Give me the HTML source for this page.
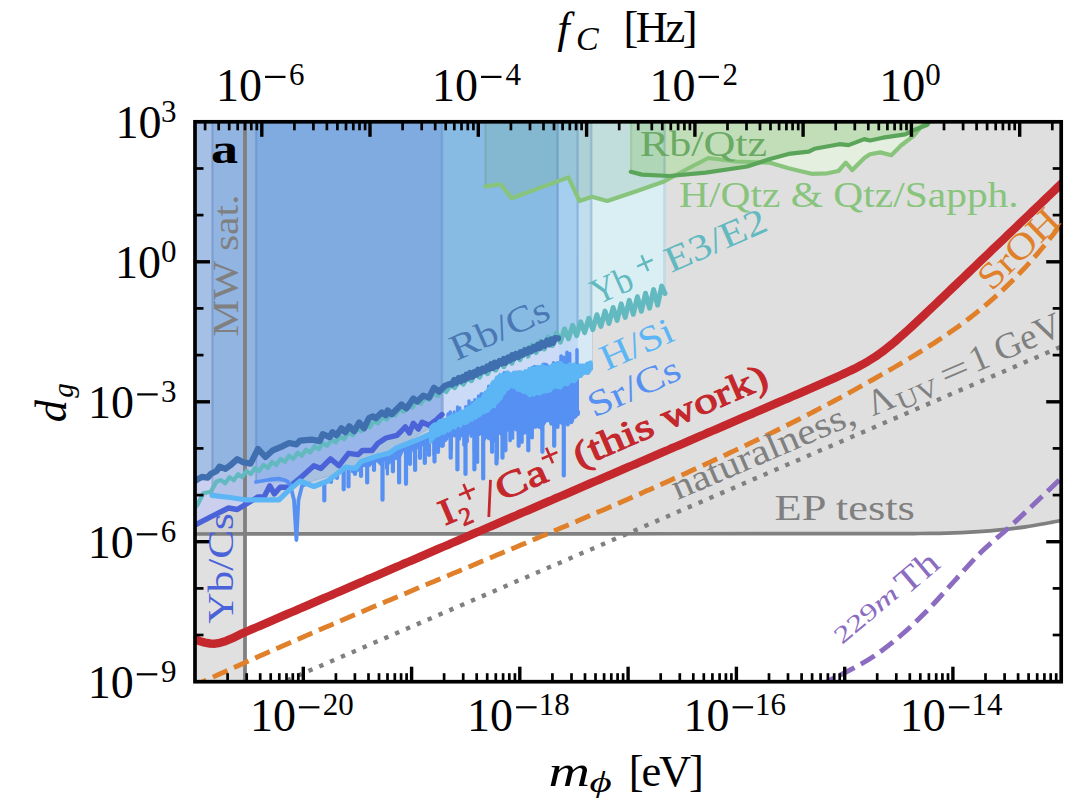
<!DOCTYPE html><html><head><meta charset="utf-8"><style>html,body{margin:0;padding:0;background:#fff;}svg{display:block;}text{font-family:"Liberation Serif",serif;}</style></head><body>
<svg width="1082" height="812" viewBox="0 0 1082 812">
<defs><clipPath id="ax"><rect x="195" y="121.8" width="866.2" height="559.9"/></clipPath></defs>
<rect width="1082" height="812" fill="#fff"/>
<g clip-path="url(#ax)">
<path d="M190,534 C225,534 331.7,533.9 400,533.9 C468.3,533.9 533.3,533.8 600,533.8 C666.7,533.8 753.3,533.7 800,533.7 C846.7,533.7 860,533.6 880,533.6 C900,533.6 908.8,533.6 920,533.5 C931.2,533.4 937.3,533.5 947.1,533.2 C956.9,532.9 969.4,532.2 978.6,531.6 C987.8,531 994.2,530.4 1002.1,529.6 C1010,528.8 1017.8,527.9 1025.7,526.8 C1033.6,525.7 1042.6,524 1049.3,522.8 C1056,521.6 1063.2,520 1066,519.5 L1066,115 L190,115 Z" fill="#dfdfdf"/>
<rect x="190" y="110" width="55" height="590" fill="rgba(204,204,204,0.6)"/>
<polygon points="664,118.8 664,181.5 689,168 708.4,158 736,161.5 770,162.7 788.5,168.2 811.6,173.8 827.3,173.3 838.4,171 845.8,162.7 852.3,170.1 864.3,158 870,154.3 880.3,152.4 891.4,155.2 901,145.5 913.6,135.8 921.9,126 926,119 926,118.8" fill="rgba(236,255,226,0.5)" stroke="rgba(236,255,226,0.5)" stroke-width="0"/>
<polygon points="190,118.8 190,512 197.4,505 203.3,493.2 210.7,491.7 216.6,484 221,482.4 231,478.9 241,475.3 251,471.7 261,468.1 271,464.6 281,461 291,457.4 301,453.8 311,449.9 321,446 331,442.1 341,438.2 351,433.8 361,429.1 371,424.5 381,419.9 391,415.3 401,410.7 411,406 421,401.4 431,396.8 441,392.2 451,387.5 461,382.9 471,378.2 481,373.6 491,368.9 501,364.3 511,359.6 521,354.9 531,350.3 541,345.6 551,341 561,336.3 571,332 581,327.9 591,323.8 601,319.7 611,315.6 621,311.5 631,307.4 641,303.3 651,299.2 661,295.1 665,293.5 665,118.8" fill="rgba(216,245,252,0.72)" stroke="rgba(216,245,252,0.72)" stroke-width="1.3"/>
<polygon points="190,118.8 190,528 195,525 196.7,524.2 210.7,516.8 228.5,508 237.3,509.5 258,496.9 264,496.9 269.8,485.8 274.3,493.9 280.2,487.3 289,487.3 300,478.2 313.9,465.8 320.8,468.5 330.5,458.8 338.8,465.8 348.5,453.3 358.2,454.7 362.4,450.5 372.1,450.5 377.6,443.6 386,438 397,435.3 405.4,426.9 409.4,433 413.3,423.2 418.3,429.1 422.2,422.2 429.1,425.2 437,419.3 442,414.5 442,118.8" fill="rgba(201,207,238,0.95)" stroke="rgba(201,207,238,0.95)" stroke-width="1.3"/>
<polygon points="256,118.8 256,482 292,481 302,484 330,476 377,456 420,438 445,425 471.8,399.2 496,380 516.9,374 542,365 562.7,353.3 578,350 578,118.8" fill="rgba(0,106,255,0.142)" stroke="rgba(0,106,255,0.142)" stroke-width="1.3"/>
<polygon points="190,118.8 190,483 195,481 196.7,479.9 201.9,476.9 207.8,477.7 210.7,474 216.6,471 219.6,466.6 225.5,468.8 231.4,464.4 237.3,459.2 243.2,462.2 250.6,463.6 258,448.9 265.4,457 272.8,450.3 281.7,446.6 289,443 296.4,444.4 300,440.6 311.8,439.6 319.7,441.1 322.7,434.2 329.6,437.1 332.5,432.2 336.5,435.2 341.4,428.3 345.3,432.2 349.3,426.3 354.2,431.2 359.1,422.4 364,428.3 369,418 373,416.3 375.9,418.3 381.8,412.4 385.8,415.3 387.7,410.4 391.7,414.3 401.5,404.5 406.5,408.4 413.3,398.6 417.3,401.5 423.2,395.6 429.1,397.6 434,387.7 439,391.7 444.9,385.8 450,383.8 452,384.5 454.3,380 456.3,382.7 458.7,377.9 460.8,381.1 462.7,377.1 464.7,379.6 466.4,374.7 468.3,377.7 470,373 472.3,376.7 474.5,372.1 476.5,374.5 478.2,369.6 480.2,372.6 482.6,368.6 485,370.9 487.2,366.5 489.3,368.8 491,364.3 492.9,367.9 494.7,362.6 497.1,366.1 499.5,361 501.8,363.5 503.8,358.9 505.7,362.7 508.1,357.6 510.1,360.3 512.1,355.2 514.1,358.2 515.9,354 518.4,356.9 520.5,352.2 522.8,354.7 525,350.3 527.2,352.8 529,348.8 531.5,351.2 533.6,346.9 535.4,349.2 537.8,344.7 539.8,348.1 542,342.8 544.5,345.8 547,340.6 549.2,344.3 551.3,339.4 553.2,342.7 555,338.2 558,338.4 558,118.8" fill="rgba(82,151,201,0.3)" stroke="rgba(82,151,201,0.3)" stroke-width="1.3"/>
<polygon points="212,118.8 212,495.4 230,497.5 245,499.8 279,499.8 289,490.2 300,481 313.9,486.5 327.7,481 345.8,467.1 355.5,468.5 361,461.6 377.6,456 388.7,453.3 397,447.7 430,428 434,425.2 438,422.4 442,420.1 446,418.4 450,416.7 454,415 458,413.3 462,411.1 466,408.6 470,406 474,403.4 478,400.9 482,396.8 486,391.2 490,385.8 494,380.8 498,375.9 502,373.5 506,373.5 510,373.5 514,373.6 518,373.6 522,372.8 526,371.2 530,369.6 534,368 538,366.4 542,365.8 546,366.2 550,366.6 554,365.4 558,364.1 562,363.8 566,364.4 570,365 574,365.6 578,366.2 582,365.7 586,364 590,362.7 592,363.6 592,118.8" fill="rgba(0,103,193,0.116)" stroke="rgba(0,103,193,0.116)" stroke-width="1.3"/>
<polygon points="485.2,118.8 485.2,186.5 500.5,184.3 511.6,198.2 568.4,177.4 579.5,201 592,196.8 607.2,201 636.3,191.2 664,181.5 665,181 665,118.8" fill="rgba(120,170,150,0.25)" stroke="rgba(120,170,150,0.25)" stroke-width="1.2"/>
<polygon points="630.8,118.8 630.8,171.8 641.9,174.6 669.6,176 705.7,172.7 747.2,166.5 770,159 788.5,153.9 808.8,151.6 814.4,148.8 839.3,144.2 848.6,145.1 864.3,139.1 870,140.5 883,137.7 905.3,134.4 913.6,130.2 927.4,124.7 931,119 931,118.8" fill="rgba(158,205,146,0.5)" stroke="rgba(158,205,146,0.5)" stroke-width="1.0"/>
<line x1="212.5" y1="121" x2="212.5" y2="495.5" stroke="rgba(40,80,140,0.13)" stroke-width="2.6"/>
<line x1="256" y1="121" x2="256" y2="482" stroke="rgba(40,80,140,0.13)" stroke-width="2.6"/>
<line x1="442" y1="121" x2="442" y2="414.5" stroke="rgba(40,80,140,0.13)" stroke-width="2.6"/>
<line x1="557.5" y1="121" x2="557.5" y2="338.4" stroke="rgba(40,80,140,0.13)" stroke-width="2.6"/>
<line x1="577.5" y1="121" x2="577.5" y2="350.1" stroke="rgba(40,80,140,0.13)" stroke-width="2.6"/>
<line x1="591" y1="121" x2="591" y2="363.1" stroke="rgba(40,80,140,0.13)" stroke-width="2.6"/>
<line x1="664.5" y1="121" x2="664.5" y2="293.7" stroke="rgba(40,80,140,0.13)" stroke-width="2.6"/>
<line x1="485.5" y1="121" x2="485.5" y2="186.5" stroke="rgba(60,110,80,0.10)" stroke-width="2.4"/>
<line x1="631" y1="121" x2="631" y2="171.9" stroke="rgba(60,110,80,0.10)" stroke-width="2.4"/>
<polygon points="444,386.7 447,385 450,383.8 453,382.5 456,382.2 459,378.4 462,378.6 465,378.7 468,377.2 471,374.6 474,373.2 477,373 480,372.2 483,369 486,368.9 489,368.5 492,366.3 495,363 498,364.2 501,362.7 504,359.2 507,359.9 510,360.2 513,356.5 516,354.1 519,355.5 522,353.9 525,350.3 528,351 531,350.8 534,347.4 537,346.2 540,347.5 543,344 546,342.7 549,344 552,340.7 555,338.2 558,338.4 559,338.4 559,363.8 558,364.1 555,365.1 552,366 549,366.5 546,366.2 543,365.9 540,365.6 537,366.8 534,368 531,369.2 528,370.4 525,371.6 522,372.8 519,373.6 516,373.6 513,373.6 510,373.5 507,373.5 504,373.5 501,373.5 498,375.9 495,379.6 492,383.3 489,387 486,391.2 483,395.4 480,399.6 477,401.5 474,403.4 471,405.4 468,407.3 465,409.2 462,411.1 459,412.8 456,414.1 453,415.4 450,416.7 447,418 444,419.3" fill="rgb(203,219,247)"/>
<polygon points="559,337.3 562,335.9 565,334.5 568,333.2 571,332 574,330.7 577,329.5 578,329.1 578,366.2 577,366 574,365.6 571,365.1 568,364.7 565,364.2 562,363.8 559,363.8" fill="rgb(195,218,246)"/>
<polygon points="578,329.1 581,327.9 584,326.6 587,325.4 590,324.2 592,323.4 592,363.6 590,362.7 587,363.6 584,364.8 581,366.1 578,366.2" fill="rgb(214,233,245)"/>
<line x1="245" y1="115" x2="245" y2="690" stroke="#808080" stroke-width="3.8"/>
<path d="M190,534 C225,534 331.7,533.9 400,533.9 C468.3,533.9 533.3,533.8 600,533.8 C666.7,533.8 753.3,533.7 800,533.7 C846.7,533.7 860,533.6 880,533.6 C900,533.6 908.8,533.6 920,533.5 C931.2,533.4 937.3,533.5 947.1,533.2 C956.9,532.9 969.4,532.2 978.6,531.6 C987.8,531 994.2,530.4 1002.1,529.6 C1010,528.8 1017.8,527.9 1025.7,526.8 C1033.6,525.7 1042.6,524 1049.3,522.8 C1056,521.6 1063.2,520 1066,519.5" fill="none" stroke="#808080" stroke-width="3.7" stroke-linejoin="round" stroke-linecap="round" />
<path d="M485.2,186.5 L500.5,184.3 L511.6,198.2 L568.4,177.4 L579.5,201 L592,196.8 L607.2,201 L636.3,191.2 L664,181.5 L689,168 L708.4,158 L736,161.5 L770,162.7 L788.5,168.2 L811.6,173.8 L827.3,173.3 L838.4,171 L845.8,162.7 L852.3,170.1 L864.3,158 L870,154.3 L880.3,152.4 L891.4,155.2 L901,145.5 L913.6,135.8 L921.9,126 L926,119" fill="none" stroke="#88c47c" stroke-width="4.2" stroke-linejoin="round" stroke-linecap="round" />
<path d="M630.8,171.8 L641.9,174.6 L669.6,176 L705.7,172.7 L747.2,166.5 L770,159 L788.5,153.9 L808.8,151.6 L814.4,148.8 L839.3,144.2 L848.6,145.1 L864.3,139.1 L870,140.5 L883,137.7 L905.3,134.4 L913.6,130.2 L927.4,124.7 L931,119" fill="none" stroke="#5aa55a" stroke-width="4.2" stroke-linejoin="round" stroke-linecap="round" />
<path d="M190,512 L197.4,505 L203.3,493.2 L210.7,491.7 L216.6,481.4 L221,480.1 L225.2,483.2 L229.5,477.1 L233.8,480.2 L238,474.1 L242.2,477.1 L246.5,471 L250.8,474.1 L255,468 L259.2,471.1 L263.5,464.9 L267.8,468 L272,461.9 L276.2,465 L280.5,458.9 L284.8,461.9 L289,455.8 L293.2,458.9 L297.5,452.8 L301.8,455.8 L306,449.6 L310.2,452.5 L314.5,446.2 L318.8,449.2 L323,442.9 L327.2,445.8 L331.5,439.6 L335.8,442.5 L340,436.3 L344.2,439.2 L348.5,432.6 L352.8,435.3 L357,428.7 L361.2,431.3 L365.5,424.8 L369.8,427.4 L374,420.8 L378.2,423.5 L382.5,416.9 L386.8,419.5 L391,413 L395.2,415.6 L399.5,409 L403.8,411.7 L408,405.1 L412.2,407.8 L416.5,401.2 L420.8,403.8 L425,397.3 L429.2,399.9 L433.5,393.3 L437.8,396 L442,389.4 L446.2,392 L450.5,385.5 L454.8,388.1 L459,381.5 L463.2,384.2 L467.3,377.4" fill="none" stroke="#62b9bf" stroke-width="4.2" stroke-linejoin="round" stroke-linecap="round" />
<path d="M463.2,384.2 L467.3,377.4 L471.4,380.7 L475.4,373.4 L479.5,377.2 L483.5,369.3 L487.6,373.7 L491.6,365.3 L495.7,370.2 L499.7,361.3 L503.8,366.7 L507.8,357.3 L511.9,363.2 L515.9,353.2 L520,359.7 L524,349.2 L528,356.2 L532.1,345.2 L536.1,352.6 L540.2,341.1 L544.2,349.1 L548.3,337.1 L552.3,345.6 L556.4,333.1 L560.4,342.1 L564.5,329 L568.5,338.8 L572.6,325.4 L576.6,335.7 L580.7,321.8 L584.7,332.6 L588.8,318.2 L592.8,329.6 L596.9,314.7 L600.9,326.5 L605,311.1 L609,323.5 L613.1,307.5 L617.1,320.4 L621.2,303.9 L625.2,317.4 L629.3,300.4 L633.3,314.3 L637.4,296.8 L641.4,311.3 L645.5,293.2 L649.5,308.2 L653.6,289.6 L657.6,305.2 L661.7,286.1 L665,293.5" fill="none" stroke="#62b9bf" stroke-width="5.0" stroke-linejoin="round" stroke-linecap="round" />
<path d="M190,528 L195,525 L196.7,524.2 L210.7,516.8 L228.5,508 L237.3,509.5 L258,496.9 L264,496.9 L269.8,485.8 L274.3,493.9 L280.2,487.3 L289,487.3 L300,478.2 L313.9,465.8 L320.8,468.5 L330.5,458.8 L338.8,465.8 L348.5,453.3 L358.2,454.7 L362.4,450.5 L372.1,450.5 L377.6,443.6 L386,438 L397,435.3 L405.4,426.9 L409.4,433 L413.3,423.2 L418.3,429.1 L422.2,422.2 L429.1,425.2 L437,419.3 L442,414.5" fill="none" stroke="#4b63d8" stroke-width="5.4" stroke-linejoin="round" stroke-linecap="round" />
<path d="M256,482 L270,479.5 L279,478.7 L286,480.6 L290,484" fill="none" stroke="#5590f2" stroke-width="3.8" stroke-linejoin="round" stroke-linecap="round" />
<path d="M290,484 L294,500 L296.4,540 L298.5,500 L302,486 L306,484" fill="none" stroke="#5590f2" stroke-width="3.8" stroke-linejoin="round" stroke-linecap="round" />
<path d="M324.3,482.4 L324.3,500.4" fill="none" stroke="#5590f2" stroke-width="4.2" stroke-linejoin="round" stroke-linecap="round" />
<path d="M343.7,468.7 L343.7,489.3" fill="none" stroke="#5590f2" stroke-width="4.2" stroke-linejoin="round" stroke-linecap="round" />
<path d="M348.5,467.5 L348.5,486.5" fill="none" stroke="#5590f2" stroke-width="4.2" stroke-linejoin="round" stroke-linecap="round" />
<path d="M367.2,459.5 L367.2,482.4" fill="none" stroke="#5590f2" stroke-width="4.2" stroke-linejoin="round" stroke-linecap="round" />
<path d="M382.5,454.8 L382.5,499.7" fill="none" stroke="#5590f2" stroke-width="4.2" stroke-linejoin="round" stroke-linecap="round" />
<path d="M392.9,450.5 L392.9,471.3" fill="none" stroke="#5590f2" stroke-width="4.2" stroke-linejoin="round" stroke-linecap="round" />
<path d="M399.1,446.9 L399.1,482.4" fill="none" stroke="#5590f2" stroke-width="4.2" stroke-linejoin="round" stroke-linecap="round" />
<path d="M406,444.3 L406,483.8" fill="none" stroke="#5590f2" stroke-width="4.2" stroke-linejoin="round" stroke-linecap="round" />
<path d="M415.1,440.8 L415.1,469.9" fill="none" stroke="#5590f2" stroke-width="4.2" stroke-linejoin="round" stroke-linecap="round" />
<path d="M424.8,436.5 L424.8,463" fill="none" stroke="#5590f2" stroke-width="4.2" stroke-linejoin="round" stroke-linecap="round" />
<path d="M434.5,432.2 L434.5,461.6" fill="none" stroke="#5590f2" stroke-width="4.2" stroke-linejoin="round" stroke-linecap="round" />
<path d="M442.8,432 L442.8,445.6" fill="none" stroke="#5590f2" stroke-width="4.2" stroke-linejoin="round" stroke-linecap="round" />
<path d="M331,478.5 L331,482" fill="none" stroke="#5590f2" stroke-width="4.2" stroke-linejoin="round" stroke-linecap="round" />
<path d="M337,473.9 L337,478" fill="none" stroke="#5590f2" stroke-width="4.2" stroke-linejoin="round" stroke-linecap="round" />
<path d="M355,468.4 L355,474" fill="none" stroke="#5590f2" stroke-width="4.2" stroke-linejoin="round" stroke-linecap="round" />
<path d="M361,461.6 L361,476" fill="none" stroke="#5590f2" stroke-width="4.2" stroke-linejoin="round" stroke-linecap="round" />
<path d="M374,457.2 L374,470" fill="none" stroke="#5590f2" stroke-width="4.2" stroke-linejoin="round" stroke-linecap="round" />
<path d="M387,453.7 L387,468" fill="none" stroke="#5590f2" stroke-width="4.2" stroke-linejoin="round" stroke-linecap="round" />
<path d="M410,442.7 L410,464" fill="none" stroke="#5590f2" stroke-width="4.2" stroke-linejoin="round" stroke-linecap="round" />
<path d="M420,438.6 L420,458" fill="none" stroke="#5590f2" stroke-width="4.2" stroke-linejoin="round" stroke-linecap="round" />
<path d="M429,434.7 L429,455" fill="none" stroke="#5590f2" stroke-width="4.2" stroke-linejoin="round" stroke-linecap="round" />
<path d="M438,432 L438,452" fill="none" stroke="#5590f2" stroke-width="4.2" stroke-linejoin="round" stroke-linecap="round" />
<polygon points="352,468 356,467.9 360,462.9 364,460.6 368,459.2 372,457.9 376,456.5 380,455.4 384,454.4 388,453.5 392,451.1 396,448.4 400,446.6 404,445 408,443.5 412,442 416,440.4 420,438.6 424,436.9 428,435.1 432,433.3 436,432 440,432 444,432 446,432 446,440.9 444.4,441.6 442.2,438.1 440,439.2 437.8,440.1 435.6,438.2 433.4,439.7 431.2,442.4 429,440.1 426.8,440 424.6,441 422.4,445.4 420.2,445.2 418,448 415.8,448.6 413.6,446.6 411.4,451.9 409.2,449.2 407,448.7 404.8,449.7 402.6,451.6 400.4,456.4 398.2,451.6 396,459.2 393.8,456.6 391.6,459.4 389.4,463.5 387.2,462.1 385,459.8 382.8,459.6 380.6,464.8 378.4,462.4 376.2,461 374,461.6 371.8,464 369.6,462.9 367.4,465.3 365.2,464.4 363,465.9 360.8,467 358.6,468.7 356.4,472 354.2,472.4 352,472" fill="#5590f2" stroke="#5590f2" stroke-width="2" stroke-linejoin="round"/>
<path d="M359.9,465.9 L359.9,470.4" fill="none" stroke="#5590f2" stroke-width="3.500109996458743" stroke-linejoin="round" stroke-linecap="round" />
<path d="M364.3,463.5 L364.3,465.5" fill="none" stroke="#5590f2" stroke-width="3.584139877994066" stroke-linejoin="round" stroke-linecap="round" />
<path d="M367.1,462.6 L367.1,465.8" fill="none" stroke="#5590f2" stroke-width="3.4057127436521997" stroke-linejoin="round" stroke-linecap="round" />
<path d="M369.9,461.6 L369.9,465.6" fill="none" stroke="#5590f2" stroke-width="2.83136580563795" stroke-linejoin="round" stroke-linecap="round" />
<path d="M374.1,460.2 L374.1,468.9" fill="none" stroke="#5590f2" stroke-width="3.258420752221907" stroke-linejoin="round" stroke-linecap="round" />
<path d="M378.8,458.7 L378.8,461" fill="none" stroke="#5590f2" stroke-width="3.3562362930189273" stroke-linejoin="round" stroke-linecap="round" />
<path d="M382.8,457.7 L382.8,462.9" fill="none" stroke="#5590f2" stroke-width="3.1649642650411303" stroke-linejoin="round" stroke-linecap="round" />
<path d="M387.4,456.6 L387.4,474" fill="none" stroke="#5590f2" stroke-width="3.1792786699357154" stroke-linejoin="round" stroke-linecap="round" />
<path d="M395.8,451.5 L395.8,457.8" fill="none" stroke="#5590f2" stroke-width="3.5944767515733074" stroke-linejoin="round" stroke-linecap="round" />
<path d="M400.3,449.4 L400.3,451.4" fill="none" stroke="#5590f2" stroke-width="3.1086331539573684" stroke-linejoin="round" stroke-linecap="round" />
<path d="M418.5,442.3 L418.5,445.3" fill="none" stroke="#5590f2" stroke-width="3.4971375793010395" stroke-linejoin="round" stroke-linecap="round" />
<path d="M421.2,441.1 L421.2,444.7" fill="none" stroke="#5590f2" stroke-width="3.23955192731523" stroke-linejoin="round" stroke-linecap="round" />
<path d="M425.9,439 L425.9,449.3" fill="none" stroke="#5590f2" stroke-width="3.4911875757588122" stroke-linejoin="round" stroke-linecap="round" />
<path d="M429.1,437.6 L429.1,440.8" fill="none" stroke="#5590f2" stroke-width="3.0870169322653" stroke-linejoin="round" stroke-linecap="round" />
<path d="M433.8,435.5 L433.8,454.5" fill="none" stroke="#5590f2" stroke-width="2.920736724632887" stroke-linejoin="round" stroke-linecap="round" />
<path d="M439.8,435 L439.8,439" fill="none" stroke="#5590f2" stroke-width="3.2712988029858043" stroke-linejoin="round" stroke-linecap="round" />
<polygon points="440,432 444,430.2 450,427.6 456,425 462,422.2 468,419.1 474,416.1 480,413 486,409.1 492,405.2 498,399.4 504,391.7 510,384.7 516,386.4 522,390.2 528,392.4 534,392.4 540,391.2 546,389.4 552,387.6 558,385.8 564,383.2 570,380.3 576,377.3 578,376.3 578,414.4 577.6,414.8 576,417.3 574.4,418 572.8,418.7 571.2,418.9 569.6,415.7 568,420.1 566.4,420.2 564.8,418.9 563.2,418.3 561.6,421.5 560,418.3 558.4,421.5 556.8,420.3 555.2,418.9 553.6,422.8 552,424.3 550.4,422.3 548.8,420.7 547.2,421.4 545.6,421.9 544,424.6 542.4,423.7 540.8,422.7 539.2,424.6 537.6,426.4 536,427.7 534.4,427.4 532.8,428.3 531.2,429.2 529.6,425.8 528,428.4 526.4,429.1 524.8,425.9 523.2,426.4 521.6,429.9 520,429.6 518.4,429.4 516.8,426.1 515.2,429.5 513.6,428.3 512,428.3 510.4,427.8 508.8,426.6 507.2,429 505.6,428.7 504,428.9 502.4,429 500.8,429.4 499.2,433.5 497.6,432.2 496,434.2 494.4,433.6 492.8,432.8 491.2,436.5 489.6,434.5 488,435.1 486.4,433.4 484.8,433.3 483.2,435.8 481.6,433.6 480,434.6 478.4,435.3 476.8,435.4 475.2,434.7 473.6,434.8 472,435.4 470.4,433.3 468.8,433.9 467.2,432.9 465.6,431.2 464,433.2 462.4,432 460.8,431 459.2,431.5 457.6,433.5 456,436 454.4,436.5 452.8,435 451.2,437.7 449.6,437.7 448,435.9 446.4,439 444.8,437.9 443.2,436 441.6,435.6 440,434.9" fill="#5590f2" stroke="#5590f2" stroke-width="2" stroke-linejoin="round"/>
<path d="M441.8,433.4 L441.8,445.8" fill="none" stroke="#5590f2" stroke-width="4.2" stroke-linejoin="round" stroke-linecap="round" />
<path d="M450.7,432.2 L450.7,457.7" fill="none" stroke="#5590f2" stroke-width="4.2" stroke-linejoin="round" stroke-linecap="round" />
<path d="M457.4,430.2 L457.4,469.5" fill="none" stroke="#5590f2" stroke-width="4.2" stroke-linejoin="round" stroke-linecap="round" />
<path d="M465.5,430.1 L465.5,473.9" fill="none" stroke="#5590f2" stroke-width="4.2" stroke-linejoin="round" stroke-linecap="round" />
<path d="M474.4,431 L474.4,469.5" fill="none" stroke="#5590f2" stroke-width="4.2" stroke-linejoin="round" stroke-linecap="round" />
<path d="M483.2,431.9 L483.2,478.4" fill="none" stroke="#5590f2" stroke-width="4.2" stroke-linejoin="round" stroke-linecap="round" />
<path d="M492.1,431.3 L492.1,451.8" fill="none" stroke="#5590f2" stroke-width="4.2" stroke-linejoin="round" stroke-linecap="round" />
<path d="M496.5,429.6 L496.5,463.6" fill="none" stroke="#5590f2" stroke-width="4.2" stroke-linejoin="round" stroke-linecap="round" />
<path d="M502.5,427.1 L502.5,457.7" fill="none" stroke="#5590f2" stroke-width="4.2" stroke-linejoin="round" stroke-linecap="round" />
<path d="M505.4,426 L505.4,450.3" fill="none" stroke="#5590f2" stroke-width="4.2" stroke-linejoin="round" stroke-linecap="round" />
<path d="M518.7,425.1 L518.7,445.8" fill="none" stroke="#5590f2" stroke-width="4.2" stroke-linejoin="round" stroke-linecap="round" />
<path d="M528.3,424.1 L528.3,450.3" fill="none" stroke="#5590f2" stroke-width="4.2" stroke-linejoin="round" stroke-linecap="round" />
<path d="M542.4,421 L542.4,451.8" fill="none" stroke="#5590f2" stroke-width="4.2" stroke-linejoin="round" stroke-linecap="round" />
<path d="M554.2,418 L554.2,445.8" fill="none" stroke="#5590f2" stroke-width="4.2" stroke-linejoin="round" stroke-linecap="round" />
<path d="M563.8,416 L563.8,475.4" fill="none" stroke="#5590f2" stroke-width="4.2" stroke-linejoin="round" stroke-linecap="round" />
<path d="M571.2,413.8 L571.2,422.2" fill="none" stroke="#5590f2" stroke-width="4.2" stroke-linejoin="round" stroke-linecap="round" />
<path d="M577.9,411.8 L577.9,414" fill="none" stroke="#5590f2" stroke-width="4.2" stroke-linejoin="round" stroke-linecap="round" />
<path d="M446.9,433.4 L446.9,438.9" fill="none" stroke="#5590f2" stroke-width="3.358827961480217" stroke-linejoin="round" stroke-linecap="round" />
<path d="M450.9,432.1 L450.9,450" fill="none" stroke="#5590f2" stroke-width="4.009683081179878" stroke-linejoin="round" stroke-linecap="round" />
<path d="M459.3,429.6 L459.3,439.1" fill="none" stroke="#5590f2" stroke-width="3.517325926174081" stroke-linejoin="round" stroke-linecap="round" />
<path d="M462.1,429.7 L462.1,435.5" fill="none" stroke="#5590f2" stroke-width="4.029046413069536" stroke-linejoin="round" stroke-linecap="round" />
<path d="M464.1,430 L464.1,444.7" fill="none" stroke="#5590f2" stroke-width="3.8102726401883" stroke-linejoin="round" stroke-linecap="round" />
<path d="M467.3,430.3 L467.3,441.6" fill="none" stroke="#5590f2" stroke-width="3.218541438607134" stroke-linejoin="round" stroke-linecap="round" />
<path d="M471.2,430.7 L471.2,436.1" fill="none" stroke="#5590f2" stroke-width="3.5995439441435053" stroke-linejoin="round" stroke-linecap="round" />
<path d="M474.4,431 L474.4,450.2" fill="none" stroke="#5590f2" stroke-width="3.4278293756705125" stroke-linejoin="round" stroke-linecap="round" />
<path d="M477.5,431.3 L477.5,462.3" fill="none" stroke="#5590f2" stroke-width="3.4121628913414868" stroke-linejoin="round" stroke-linecap="round" />
<path d="M484.2,432 L484.2,439" fill="none" stroke="#5590f2" stroke-width="3.765561614510453" stroke-linejoin="round" stroke-linecap="round" />
<path d="M486.3,432.2 L486.3,436.8" fill="none" stroke="#5590f2" stroke-width="4.100570384810616" stroke-linejoin="round" stroke-linecap="round" />
<path d="M488.6,432.4 L488.6,437.9" fill="none" stroke="#5590f2" stroke-width="4.1892018204939285" stroke-linejoin="round" stroke-linecap="round" />
<path d="M491.2,431.7 L491.2,440.8" fill="none" stroke="#5590f2" stroke-width="3.6306288372639313" stroke-linejoin="round" stroke-linecap="round" />
<path d="M493.2,430.9 L493.2,441.1" fill="none" stroke="#5590f2" stroke-width="3.702978081970107" stroke-linejoin="round" stroke-linecap="round" />
<path d="M497.3,429.2 L497.3,458.6" fill="none" stroke="#5590f2" stroke-width="3.2740222868743256" stroke-linejoin="round" stroke-linecap="round" />
<path d="M500.6,427.9 L500.6,433.8" fill="none" stroke="#5590f2" stroke-width="3.3320882475239917" stroke-linejoin="round" stroke-linecap="round" />
<path d="M507.7,425.1 L507.7,429.9" fill="none" stroke="#5590f2" stroke-width="3.772881858681441" stroke-linejoin="round" stroke-linecap="round" />
<path d="M510.1,424.1 L510.1,440.6" fill="none" stroke="#5590f2" stroke-width="3.6363366485490314" stroke-linejoin="round" stroke-linecap="round" />
<path d="M512.6,423.9 L512.6,438.2" fill="none" stroke="#5590f2" stroke-width="3.3346138155118945" stroke-linejoin="round" stroke-linecap="round" />
<path d="M516.2,424.6 L516.2,429.6" fill="none" stroke="#5590f2" stroke-width="4.040901148963727" stroke-linejoin="round" stroke-linecap="round" />
<path d="M518.8,425.1 L518.8,435.5" fill="none" stroke="#5590f2" stroke-width="3.8722521171028896" stroke-linejoin="round" stroke-linecap="round" />
<path d="M521.9,424.8 L521.9,442.1" fill="none" stroke="#5590f2" stroke-width="3.743221362510687" stroke-linejoin="round" stroke-linecap="round" />
<path d="M524.4,424.5 L524.4,432.7" fill="none" stroke="#5590f2" stroke-width="3.887097577042808" stroke-linejoin="round" stroke-linecap="round" />
<path d="M527.3,424.2 L527.3,432.4" fill="none" stroke="#5590f2" stroke-width="3.272482289683982" stroke-linejoin="round" stroke-linecap="round" />
<path d="M529.9,424 L529.9,437.2" fill="none" stroke="#5590f2" stroke-width="3.5341890684939634" stroke-linejoin="round" stroke-linecap="round" />
<path d="M532.3,423.7 L532.3,437.8" fill="none" stroke="#5590f2" stroke-width="3.229600172812529" stroke-linejoin="round" stroke-linecap="round" />
<path d="M539.4,421.8 L539.4,427" fill="none" stroke="#5590f2" stroke-width="4.123126978217524" stroke-linejoin="round" stroke-linecap="round" />
<path d="M542,421.1 L542,430.1" fill="none" stroke="#5590f2" stroke-width="3.495332358749509" stroke-linejoin="round" stroke-linecap="round" />
<path d="M551,418.6 L551,423.8" fill="none" stroke="#5590f2" stroke-width="3.6523938674908516" stroke-linejoin="round" stroke-linecap="round" />
<path d="M557.6,417.3 L557.6,426.9" fill="none" stroke="#5590f2" stroke-width="4.034823383846531" stroke-linejoin="round" stroke-linecap="round" />
<path d="M560.5,416.7 L560.5,422.8" fill="none" stroke="#5590f2" stroke-width="3.5179757214326326" stroke-linejoin="round" stroke-linecap="round" />
<path d="M563.3,416.1 L563.3,424.5" fill="none" stroke="#5590f2" stroke-width="3.9797972863470106" stroke-linejoin="round" stroke-linecap="round" />
<path d="M567.8,414.8 L567.8,424.6" fill="none" stroke="#5590f2" stroke-width="3.960538622300425" stroke-linejoin="round" stroke-linecap="round" />
<path d="M572.2,413.5 L572.2,420.5" fill="none" stroke="#5590f2" stroke-width="3.8918752256335285" stroke-linejoin="round" stroke-linecap="round" />
<path d="M445,421.9 L445,419.3" fill="none" stroke="#5590f2" stroke-width="3.338999531020814" stroke-linejoin="round" stroke-linecap="round" />
<path d="M448.2,420.5 L448.2,414" fill="none" stroke="#5590f2" stroke-width="3.723446456459887" stroke-linejoin="round" stroke-linecap="round" />
<path d="M450.3,419.6 L450.3,412.1" fill="none" stroke="#5590f2" stroke-width="3.646719647149374" stroke-linejoin="round" stroke-linecap="round" />
<path d="M452.3,418.7 L452.3,414.5" fill="none" stroke="#5590f2" stroke-width="3.7442570330693155" stroke-linejoin="round" stroke-linecap="round" />
<path d="M454.3,417.8 L454.3,411.9" fill="none" stroke="#5590f2" stroke-width="3.0819748715816804" stroke-linejoin="round" stroke-linecap="round" />
<path d="M457.5,416.5 L457.5,406.8" fill="none" stroke="#5590f2" stroke-width="3.1944833052912047" stroke-linejoin="round" stroke-linecap="round" />
<path d="M459.9,415.4 L459.9,407.8" fill="none" stroke="#5590f2" stroke-width="3.0134859895820822" stroke-linejoin="round" stroke-linecap="round" />
<path d="M462.8,413.6 L462.8,411.5" fill="none" stroke="#5590f2" stroke-width="3.3067388303396092" stroke-linejoin="round" stroke-linecap="round" />
<path d="M465.8,411.7 L465.8,406.7" fill="none" stroke="#5590f2" stroke-width="3.611653738867335" stroke-linejoin="round" stroke-linecap="round" />
<path d="M469,409.6 L469,400.8" fill="none" stroke="#5590f2" stroke-width="3.3406552421690168" stroke-linejoin="round" stroke-linecap="round" />
<path d="M472.3,407.5 L472.3,402.9" fill="none" stroke="#5590f2" stroke-width="3.7970978750895314" stroke-linejoin="round" stroke-linecap="round" />
<path d="M475,405.8 L475,399.8" fill="none" stroke="#5590f2" stroke-width="3.6972218743963823" stroke-linejoin="round" stroke-linecap="round" />
<path d="M476.8,404.7 L476.8,401" fill="none" stroke="#5590f2" stroke-width="3.6201142442727896" stroke-linejoin="round" stroke-linecap="round" />
<path d="M478.5,403.6 L478.5,395.9" fill="none" stroke="#5590f2" stroke-width="3.36301672901332" stroke-linejoin="round" stroke-linecap="round" />
<path d="M481,401.3 L481,393.8" fill="none" stroke="#5590f2" stroke-width="3.068096230605392" stroke-linejoin="round" stroke-linecap="round" />
<path d="M482.6,399 L482.6,394.1" fill="none" stroke="#5590f2" stroke-width="3.50739351588309" stroke-linejoin="round" stroke-linecap="round" />
<path d="M485.7,394.6 L485.7,392.3" fill="none" stroke="#5590f2" stroke-width="3.706553665775118" stroke-linejoin="round" stroke-linecap="round" />
<path d="M488.5,390.7 L488.5,386.1" fill="none" stroke="#5590f2" stroke-width="3.015673095711252" stroke-linejoin="round" stroke-linecap="round" />
<path d="M491.6,386.8 L491.6,384.7" fill="none" stroke="#5590f2" stroke-width="3.5342133440981205" stroke-linejoin="round" stroke-linecap="round" />
<path d="M495,382.7 L495,382.4" fill="none" stroke="#5590f2" stroke-width="3.3437721421143753" stroke-linejoin="round" stroke-linecap="round" />
<path d="M498.2,378.6 L498.2,377.3" fill="none" stroke="#5590f2" stroke-width="3.6703244217326407" stroke-linejoin="round" stroke-linecap="round" />
<path d="M504.2,376.5 L504.2,372.8" fill="none" stroke="#5590f2" stroke-width="3.564530816169806" stroke-linejoin="round" stroke-linecap="round" />
<path d="M506,376.5 L506,372.7" fill="none" stroke="#5590f2" stroke-width="3.6014055873074398" stroke-linejoin="round" stroke-linecap="round" />
<path d="M508.2,376.5 L508.2,375.6" fill="none" stroke="#5590f2" stroke-width="3.2151838955199676" stroke-linejoin="round" stroke-linecap="round" />
<path d="M510.8,376.6 L510.8,374.5" fill="none" stroke="#5590f2" stroke-width="3.7893539233637767" stroke-linejoin="round" stroke-linecap="round" />
<path d="M512.7,376.6 L512.7,374.4" fill="none" stroke="#5590f2" stroke-width="3.0989125671096223" stroke-linejoin="round" stroke-linecap="round" />
<path d="M515.6,376.6 L515.6,372.2" fill="none" stroke="#5590f2" stroke-width="3.200650062998912" stroke-linejoin="round" stroke-linecap="round" />
<path d="M517.9,376.6 L517.9,372.2" fill="none" stroke="#5590f2" stroke-width="3.478187140729119" stroke-linejoin="round" stroke-linecap="round" />
<path d="M519.9,376.6 L519.9,372" fill="none" stroke="#5590f2" stroke-width="3.6156938225126862" stroke-linejoin="round" stroke-linecap="round" />
<path d="M522.1,375.8 L522.1,373.1" fill="none" stroke="#5590f2" stroke-width="3.4000836745080907" stroke-linejoin="round" stroke-linecap="round" />
<path d="M524.8,374.7 L524.8,372" fill="none" stroke="#5590f2" stroke-width="3.119213486852198" stroke-linejoin="round" stroke-linecap="round" />
<path d="M527,373.8 L527,372.7" fill="none" stroke="#5590f2" stroke-width="3.401993323743066" stroke-linejoin="round" stroke-linecap="round" />
<path d="M529.7,372.7 L529.7,369.5" fill="none" stroke="#5590f2" stroke-width="3.0564576639342005" stroke-linejoin="round" stroke-linecap="round" />
<path d="M532.3,371.7 L532.3,367.6" fill="none" stroke="#5590f2" stroke-width="3.458329463007066" stroke-linejoin="round" stroke-linecap="round" />
<path d="M534.5,370.8 L534.5,366.5" fill="none" stroke="#5590f2" stroke-width="3.31963982332182" stroke-linejoin="round" stroke-linecap="round" />
<path d="M537.6,369.6 L537.6,369.4" fill="none" stroke="#5590f2" stroke-width="3.070738508854855" stroke-linejoin="round" stroke-linecap="round" />
<path d="M540,368.6 L540,367.6" fill="none" stroke="#5590f2" stroke-width="3.156082063134682" stroke-linejoin="round" stroke-linecap="round" />
<path d="M543.3,368.9 L543.3,364" fill="none" stroke="#5590f2" stroke-width="3.2389751386145766" stroke-linejoin="round" stroke-linecap="round" />
<path d="M545.1,369.1 L545.1,364.2" fill="none" stroke="#5590f2" stroke-width="3.5664591450125323" stroke-linejoin="round" stroke-linecap="round" />
<path d="M547,369.3 L547,365.1" fill="none" stroke="#5590f2" stroke-width="3.5129220973846724" stroke-linejoin="round" stroke-linecap="round" />
<path d="M548.7,369.5 L548.7,368.1" fill="none" stroke="#5590f2" stroke-width="3.0201136885029736" stroke-linejoin="round" stroke-linecap="round" />
<path d="M551.8,369 L551.8,365.9" fill="none" stroke="#5590f2" stroke-width="3.267822465324017" stroke-linejoin="round" stroke-linecap="round" />
<path d="M553.5,368.5 L553.5,362.6" fill="none" stroke="#5590f2" stroke-width="3.2000870673627912" stroke-linejoin="round" stroke-linecap="round" />
<path d="M556.1,367.7 L556.1,363.4" fill="none" stroke="#5590f2" stroke-width="3.2784857876939637" stroke-linejoin="round" stroke-linecap="round" />
<path d="M557.8,367.2 L557.8,362.8" fill="none" stroke="#5590f2" stroke-width="3.730134055336194" stroke-linejoin="round" stroke-linecap="round" />
<path d="M561.1,366.7 L561.1,356" fill="none" stroke="#5590f2" stroke-width="3.68065664296567" stroke-linejoin="round" stroke-linecap="round" />
<path d="M564.1,367.1 L564.1,357.3" fill="none" stroke="#5590f2" stroke-width="3.483888676313494" stroke-linejoin="round" stroke-linecap="round" />
<path d="M567,367.6 L567,352.2" fill="none" stroke="#5590f2" stroke-width="3.4829890808317105" stroke-linejoin="round" stroke-linecap="round" />
<path d="M569.6,367.9 L569.6,353.7" fill="none" stroke="#5590f2" stroke-width="3.6759570527005065" stroke-linejoin="round" stroke-linecap="round" />
<path d="M572.2,368.3 L572.2,367.1" fill="none" stroke="#5590f2" stroke-width="3.4847132420151836" stroke-linejoin="round" stroke-linecap="round" />
<path d="M574.4,368.7 L574.4,364.1" fill="none" stroke="#5590f2" stroke-width="3.036633700539476" stroke-linejoin="round" stroke-linecap="round" />
<path d="M577,369 L577,349.8" fill="none" stroke="#5590f2" stroke-width="3.4464526789956844" stroke-linejoin="round" stroke-linecap="round" />
<path d="M212,495.4 L230,497.5 L245,499.8 L279,499.8 L289,490.2 L300,481 L313.9,486.5 L327.7,481 L345.8,467.1 L355.5,468.5 L361,461.6 L377.6,456 L388.7,453.3 L397,447.7 L415.1,440.8 L435,432" fill="none" stroke="#5cb6f5" stroke-width="5.2" stroke-linejoin="round" stroke-linecap="round" />
<polygon points="430,427.2 431.7,425.3 433.4,424 435.1,423.1 436.8,423.6 438.5,420.7 440.2,420 441.9,420.3 443.6,419.1 445.3,419.7 447,417.5 448.7,416.5 450.4,416.4 452.1,414.3 453.8,415.9 455.5,413.4 457.2,412.7 458.9,413 460.6,410.3 462.3,411 464,410.5 465.7,407.7 467.4,408.7 469.1,406.2 470.8,405.9 472.5,403.8 474.2,402.5 475.9,400.9 477.6,399 479.3,398.5 481,399.4 482.7,395.4 484.4,392.8 486.1,391.9 487.8,388.5 489.5,387.5 491.2,383.3 492.9,380.7 494.6,381 496.3,376.4 498,376.4 499.7,373.7 501.4,374.6 503.1,374.5 504.8,373.6 506.5,371.5 508.2,371.4 509.9,373 511.6,374.1 513.3,371.6 515,372.8 516.7,371.7 518.4,372.4 520.1,371.4 521.8,371.8 523.5,371.8 525.2,370 526.9,371.3 528.6,368.1 530.3,368 532,367.5 533.7,367.3 535.4,367.8 537.1,365.8 538.8,366.2 540.5,366.6 542.2,364.1 543.9,366.7 545.6,366 547.3,366.7 549,366.4 550.7,365.6 552.4,364 554.1,363.6 555.8,363.2 557.5,362.7 559.2,362 560.9,362.1 562.6,363.6 564.3,364.6 566,364.9 567.7,365.3 569.4,363.1 571.1,365.8 572.8,363.9 574.5,363.7 576.2,364.7 577.9,366 579.6,364.4 581.3,364.5 583,364.4 584.7,365.1 586.4,363 588.1,362.3 589.8,361.6 591.5,361.5 592,364.3 592,369.6 591.5,368.6 589.8,372.3 588.1,374 586.4,373.7 584.7,373.7 583,374.7 581.3,376.9 579.6,376.9 577.9,378.5 576.2,380.7 574.5,382.2 572.8,382.2 571.1,381.5 569.4,383.3 567.7,385.4 566,384.9 564.3,385.1 562.6,386.1 560.9,388.8 559.2,388.2 557.5,387.8 555.8,387.6 554.1,387.8 552.4,389 550.7,391.4 549,391.9 547.3,392 545.6,392.4 543.9,392.6 542.2,392.9 540.5,394.4 538.8,394.8 537.1,393.3 535.4,394.4 533.7,395.9 532,394.2 530.3,396.5 528.6,395.8 526.9,393.9 525.2,392.2 523.5,393.3 521.8,391.3 520.1,391.6 518.4,390.2 516.7,390.6 515,387.2 513.3,388.1 511.6,386.4 509.9,387.9 508.2,389.7 506.5,390.1 504.8,393.7 503.1,394.3 501.4,399.1 499.7,400.3 498,402.4 496.3,403.5 494.6,407.3 492.9,406.7 491.2,408 489.5,409.9 487.8,412.1 486.1,411.9 484.4,413.2 482.7,413 481,415.2 479.3,416.4 477.6,416.4 475.9,418.9 474.2,417.6 472.5,420.8 470.8,420.3 469.1,422 467.4,423.2 465.7,424.2 464,423.7 462.3,423.7 460.6,427 458.9,426 457.2,425.5 455.5,428.5 453.8,427.7 452.1,428.3 450.4,430.5 448.7,431.7 447,430.5 445.3,432.9 443.6,434.2 441.9,433 440.2,434.9 438.5,436.1 436.8,436.1 435.1,437.7 433.4,438.8 431.7,441.1 430,442.9" fill="#5cb6f5" stroke="#5cb6f5" stroke-width="2" stroke-linejoin="round"/>
<path d="M190,483 L195,481 L196.7,479.9 L201.9,476.9 L207.8,477.7 L210.7,474 L216.6,471 L219.6,466.6 L225.5,468.8 L231.4,464.4 L237.3,459.2 L243.2,462.2 L250.6,463.6 L258,448.9 L265.4,457 L272.8,450.3 L281.7,446.6 L289,443 L296.4,444.4 L300,440.6 L311.8,439.6 L319.7,441.1 L322.7,434.2 L329.6,437.1 L332.5,432.2 L336.5,435.2 L341.4,428.3 L345.3,432.2 L349.3,426.3 L354.2,431.2 L359.1,422.4 L364,428.3 L369,418 L373,416.3 L375.9,418.3 L381.8,412.4 L385.8,415.3 L387.7,410.4 L391.7,414.3 L401.5,404.5 L406.5,408.4 L413.3,398.6 L417.3,401.5 L423.2,395.6 L429.1,397.6 L434,387.7 L439,391.7 L444.9,385.8 L450,383.8 L452,384.5 L454.3,380 L456.3,382.7 L458.7,377.9 L460.8,381.1 L462.7,377.1 L464.7,379.6 L466.4,374.7 L468.3,377.7 L470,373 L472.3,376.7 L474.5,372.1 L476.5,374.5 L478.2,369.6 L480.2,372.6 L482.6,368.6 L485,370.9 L487.2,366.5 L489.3,368.8 L491,364.3 L492.9,367.9 L494.7,362.6 L497.1,366.1 L499.5,361 L501.8,363.5 L503.8,358.9 L505.7,362.7 L508.1,357.6 L510.1,360.3 L512.1,355.2 L514.1,358.2 L515.9,354 L518.4,356.9 L520.5,352.2 L522.8,354.7 L525,350.3 L527.2,352.8 L529,348.8 L531.5,351.2 L533.6,346.9 L535.4,349.2 L537.8,344.7 L539.8,348.1 L542,342.8 L544.5,345.8 L547,340.6 L549.2,344.3 L551.3,339.4 L553.2,342.7 L555,338.2 L558,338.4" fill="none" stroke="#3f6fae" stroke-width="6.2" stroke-linejoin="round" stroke-linecap="round" />
<path d="M277.8,684.3 L1066,344.6" fill="none" stroke="#808080" stroke-width="4.4" stroke-linejoin="round" stroke-linecap="butt" stroke-dasharray="4.4 7.4" stroke-dashoffset="2"/>
<path d="M190,687.7 L194,685.9 L198,684 L202,682.1 L206,680.3 L210,678.5 L214,676.6 L218,674.8 L222,673 L226,671.2 L230,669.3 L234,667.5 L238,665.7 L242,663.9 L246,662.1 L250,660.3 L254,658.6 L258,656.8 L262,655 L266,653.2 L270,651.5 L274,649.7 L278,647.9 L282,646.2 L286,644.4 L290,642.7 L294,640.9 L298,639.2 L302,637.4 L306,635.7 L310,634 L314,632.2 L318,630.5 L322,628.8 L326,627.1 L330,625.4 L334,623.6 L338,621.9 L342,620.2 L346,618.5 L350,616.8 L354,615.1 L358,613.4 L362,611.7 L366,610 L370,608.3 L374,606.6 L378,604.9 L382,603.3 L386,601.6 L390,599.9 L394,598.2 L398,596.5 L402,594.8 L406,593.2 L410,591.5 L414,589.8 L418,588.1 L422,586.4 L426,584.8 L430,583.1 L434,581.4 L438,579.7 L442,578.1 L446,576.4 L450,574.7 L454,573.1 L458,571.4 L462,569.7 L466,568 L470,566.4 L474,564.7 L478,563 L482,561.3 L486,559.7 L490,558 L494,556.3 L498,554.6 L502,553 L506,551.3 L510,549.6 L514,547.9 L518,546.2 L522,544.5 L526,542.9 L530,541.2 L534,539.5 L538,537.8 L542,536.1 L546,534.4 L550,532.7 L554,531 L558,529.3 L562,527.6 L566,525.9 L570,524.2 L574,522.5 L578,520.8 L582,519 L586,517.3 L590,515.6 L594,513.9 L598,512.1 L602,510.4 L606,508.7 L610,506.9 L614,505.2 L618,503.5 L622,501.7 L626,500 L630,498.2 L634,496.4 L638,494.7 L642,492.9 L646,491.1 L650,489.4 L654,487.6 L658,485.8 L662,484 L666,482.2 L670,480.4 L674,478.6 L678,476.8 L682,475 L686,473.2 L690,471.3 L694,469.5 L698,467.7 L702,465.8 L706,464 L710,462.1 L714,460.3 L718,458.4 L722,456.6 L726,454.7 L730,452.8 L734,450.9 L738,449 L742,447.1 L746,445.2 L750,443.3 L754,441.4 L758,439.5 L762,437.5 L766,435.6 L770,433.6 L774,431.7 L778,429.7 L782,427.7 L786,425.7 L790,423.7 L794,421.7 L798,419.7 L802,417.7 L806,415.6 L810,413.6 L814,411.5 L818,409.4 L822,407.3 L826,405.2 L830,403.1 L834,401 L838,398.8 L842,396.7 L846,394.5 L850,392.3 L854,390.1 L858,387.9 L862,385.7 L866,383.5 L870,381.2 L874,379 L878,376.7 L882,374.4 L886,372.1 L890,369.8 L894,367.5 L898,365.1 L902,362.8 L906,360.4 L910,358 L914,355.6 L918,353.1 L922,350.7 L926,348.2 L930,345.6 L934,343.1 L938,340.4 L942,337.8 L946,335.1 L950,332.3 L954,329.5 L958,326.7 L962,323.8 L966,320.8 L970,317.7 L974,314.6 L978,311.4 L982,308.2 L986,304.8 L990,301.4 L994,297.9 L998,294.3 L1002,290.7 L1006,286.9 L1010,283 L1014,279.1 L1018,275 L1022,270.8 L1026,266.6 L1030,262.2 L1034,257.7 L1038,253.1 L1042,248.3 L1046,243.5 L1050,238.5 L1054,233.4 L1058,228.1 L1062,222.8 L1066,217.3" fill="none" stroke="#e0802a" stroke-width="4.9" stroke-linejoin="round" stroke-linecap="butt" stroke-dasharray="16 7.2" stroke-dashoffset="21.2"/>
<path d="M820,686 C821.8,684.9 826.3,682 830.8,679.6 C835.3,677.2 839.9,675.4 847.1,671.5 C854.3,667.6 865.2,662.1 874.2,656 C883.2,649.9 892.3,642.8 901.3,635 C910.3,627.2 919.3,618.7 928.3,609.5 C937.3,600.3 946.5,589.5 955.4,579.8 C964.3,570.1 972.7,560.3 981.7,551.5 C990.7,542.7 1000.2,535.6 1009.6,527 C1019,518.4 1028.9,508.9 1038.3,500 C1047.7,491.1 1061.4,477.9 1066,473.5" fill="none" stroke="#8b6cc1" stroke-width="4.9" stroke-linejoin="round" stroke-linecap="butt" stroke-dasharray="16 7.2"/>
<path d="M190,637.5 L195,639.3 L200,641.2 L205,642.6 L210,643.5 L215,643.7 L220,642.8 L226,640.9 L232,638.4 L240,634.4 L244,632.7 L248,631 L252,629.2 L256,627.5 L260,625.8 L264,624.1 L268,622.3 L272,620.6 L276,618.9 L280,617.2 L284,615.4 L288,613.7 L292,612 L296,610.3 L300,608.5 L304,606.8 L308,605.1 L312,603.4 L316,601.7 L320,599.9 L324,598.2 L328,596.5 L332,594.8 L336,593 L340,591.3 L344,589.6 L348,587.9 L352,586.1 L356,584.4 L360,582.7 L364,581 L368,579.2 L372,577.5 L376,575.8 L380,574.1 L384,572.4 L388,570.6 L392,568.9 L396,567.2 L400,565.5 L404,563.7 L408,562 L412,560.3 L416,558.6 L420,556.8 L424,555.1 L428,553.4 L432,551.7 L436,549.9 L440,548.2 L444,546.5 L448,544.8 L452,543 L456,541.3 L460,539.6 L464,537.9 L468,536.2 L472,534.4 L476,532.7 L480,531 L484,529.3 L488,527.5 L492,525.8 L496,524.1 L500,522.4 L504,520.6 L508,518.9 L512,517.2 L516,515.5 L520,513.7 L524,512 L528,510.3 L532,508.6 L536,506.8 L540,505.1 L544,503.4 L548,501.7 L552,500 L556,498.2 L560,496.5 L564,494.8 L568,493.1 L572,491.3 L576,489.6 L580,487.9 L584,486.2 L588,484.4 L592,482.7 L596,481 L600,479.3 L604,477.5 L608,475.8 L612,474.1 L616,472.4 L620,470.7 L624,468.9 L628,467.2 L632,465.5 L636,463.8 L640,462 L644,460.3 L648,458.6 L652,456.9 L656,455.1 L660,453.4 L664,451.7 L668,450 L672,448.2 L676,446.5 L680,444.8 L684,443.1 L688,441.3 L692,439.6 L696,437.9 L700,436.2 L704,434.5 L708,432.7 L712,431 L716,429.3 L720,427.6 L724,425.8 L728,424.1 L732,422.4 L736,420.7 L740,418.9 L744,417.2 L748,415.5 L752,413.8 L756,412 L760,410.3 L764,408.6 L768,406.9 L772,405.2 L776,403.4 L780,401.7 L784,400 L788,398.3 L792,396.5 L796,394.8 L800,393.1 L804,391.3 L808,389.6 L812,387.9 L816,386.1 L820,384.4 L824,382.7 L828,380.9 L832,379.1 L836,377.3 L840,375.5 L844,373.7 L848,371.8 L852,369.9 L856,367.9 L860,365.8 L864,363.6 L868,361.3 L872,358.8 L876,356.2 L880,353.4 L884,350.5 L888,347.3 L892,344.1 L896,340.7 L900,337.2 L904,333.7 L908,330 L912,326.3 L916,322.6 L920,318.9 L924,315.1 L928,311.3 L932,307.5 L936,303.7 L940,299.9 L944,296.1 L948,292.2 L952,288.4 L956,284.6 L960,280.8 L964,276.9 L968,273.1 L972,269.3 L976,265.5 L980,261.6 L984,257.8 L988,254 L992,250.1 L996,246.3 L1000,242.5 L1004,238.7 L1008,234.8 L1012,231 L1016,227.2 L1020,223.3 L1024,219.5 L1028,215.7 L1032,211.9 L1036,208 L1040,204.2 L1044,200.4 L1048,196.5 L1052,192.7 L1056,188.9 L1060,185 L1064,181.2 L1068,177.4" fill="none" stroke="#c4282c" stroke-width="8.4" stroke-linejoin="round" stroke-linecap="round" />
</g>
<line x1="227.6" y1="681.7" x2="227.6" y2="673.2" stroke="#000" stroke-width="2.7"/><line x1="246.7" y1="681.7" x2="246.7" y2="673.2" stroke="#000" stroke-width="2.7"/><line x1="260.2" y1="681.7" x2="260.2" y2="673.2" stroke="#000" stroke-width="2.7"/><line x1="270.7" y1="681.7" x2="270.7" y2="673.2" stroke="#000" stroke-width="2.7"/><line x1="279.3" y1="681.7" x2="279.3" y2="673.2" stroke="#000" stroke-width="2.7"/><line x1="286.5" y1="681.7" x2="286.5" y2="673.2" stroke="#000" stroke-width="2.7"/><line x1="292.8" y1="681.7" x2="292.8" y2="673.2" stroke="#000" stroke-width="2.7"/><line x1="298.3" y1="681.7" x2="298.3" y2="673.2" stroke="#000" stroke-width="2.7"/><line x1="303.3" y1="681.7" x2="303.3" y2="666.7" stroke="#000" stroke-width="3.4"/><line x1="335.9" y1="681.7" x2="335.9" y2="673.2" stroke="#000" stroke-width="2.7"/><line x1="354.9" y1="681.7" x2="354.9" y2="673.2" stroke="#000" stroke-width="2.7"/><line x1="368.5" y1="681.7" x2="368.5" y2="673.2" stroke="#000" stroke-width="2.7"/><line x1="379" y1="681.7" x2="379" y2="673.2" stroke="#000" stroke-width="2.7"/><line x1="387.5" y1="681.7" x2="387.5" y2="673.2" stroke="#000" stroke-width="2.7"/><line x1="394.8" y1="681.7" x2="394.8" y2="673.2" stroke="#000" stroke-width="2.7"/><line x1="401.1" y1="681.7" x2="401.1" y2="673.2" stroke="#000" stroke-width="2.7"/><line x1="406.6" y1="681.7" x2="406.6" y2="673.2" stroke="#000" stroke-width="2.7"/><line x1="411.6" y1="681.7" x2="411.6" y2="666.7" stroke="#000" stroke-width="3.4"/><line x1="444.1" y1="681.7" x2="444.1" y2="673.2" stroke="#000" stroke-width="2.7"/><line x1="463.2" y1="681.7" x2="463.2" y2="673.2" stroke="#000" stroke-width="2.7"/><line x1="476.7" y1="681.7" x2="476.7" y2="673.2" stroke="#000" stroke-width="2.7"/><line x1="487.2" y1="681.7" x2="487.2" y2="673.2" stroke="#000" stroke-width="2.7"/><line x1="495.8" y1="681.7" x2="495.8" y2="673.2" stroke="#000" stroke-width="2.7"/><line x1="503.1" y1="681.7" x2="503.1" y2="673.2" stroke="#000" stroke-width="2.7"/><line x1="509.3" y1="681.7" x2="509.3" y2="673.2" stroke="#000" stroke-width="2.7"/><line x1="514.9" y1="681.7" x2="514.9" y2="673.2" stroke="#000" stroke-width="2.7"/><line x1="519.8" y1="681.7" x2="519.8" y2="666.7" stroke="#000" stroke-width="3.4"/><line x1="552.4" y1="681.7" x2="552.4" y2="673.2" stroke="#000" stroke-width="2.7"/><line x1="571.5" y1="681.7" x2="571.5" y2="673.2" stroke="#000" stroke-width="2.7"/><line x1="585" y1="681.7" x2="585" y2="673.2" stroke="#000" stroke-width="2.7"/><line x1="595.5" y1="681.7" x2="595.5" y2="673.2" stroke="#000" stroke-width="2.7"/><line x1="604.1" y1="681.7" x2="604.1" y2="673.2" stroke="#000" stroke-width="2.7"/><line x1="611.3" y1="681.7" x2="611.3" y2="673.2" stroke="#000" stroke-width="2.7"/><line x1="617.6" y1="681.7" x2="617.6" y2="673.2" stroke="#000" stroke-width="2.7"/><line x1="623.1" y1="681.7" x2="623.1" y2="673.2" stroke="#000" stroke-width="2.7"/><line x1="628.1" y1="681.7" x2="628.1" y2="666.7" stroke="#000" stroke-width="3.4"/><line x1="660.7" y1="681.7" x2="660.7" y2="673.2" stroke="#000" stroke-width="2.7"/><line x1="679.8" y1="681.7" x2="679.8" y2="673.2" stroke="#000" stroke-width="2.7"/><line x1="693.3" y1="681.7" x2="693.3" y2="673.2" stroke="#000" stroke-width="2.7"/><line x1="703.8" y1="681.7" x2="703.8" y2="673.2" stroke="#000" stroke-width="2.7"/><line x1="712.4" y1="681.7" x2="712.4" y2="673.2" stroke="#000" stroke-width="2.7"/><line x1="719.6" y1="681.7" x2="719.6" y2="673.2" stroke="#000" stroke-width="2.7"/><line x1="725.9" y1="681.7" x2="725.9" y2="673.2" stroke="#000" stroke-width="2.7"/><line x1="731.4" y1="681.7" x2="731.4" y2="673.2" stroke="#000" stroke-width="2.7"/><line x1="736.4" y1="681.7" x2="736.4" y2="666.7" stroke="#000" stroke-width="3.4"/><line x1="769" y1="681.7" x2="769" y2="673.2" stroke="#000" stroke-width="2.7"/><line x1="788" y1="681.7" x2="788" y2="673.2" stroke="#000" stroke-width="2.7"/><line x1="801.6" y1="681.7" x2="801.6" y2="673.2" stroke="#000" stroke-width="2.7"/><line x1="812.1" y1="681.7" x2="812.1" y2="673.2" stroke="#000" stroke-width="2.7"/><line x1="820.6" y1="681.7" x2="820.6" y2="673.2" stroke="#000" stroke-width="2.7"/><line x1="827.9" y1="681.7" x2="827.9" y2="673.2" stroke="#000" stroke-width="2.7"/><line x1="834.2" y1="681.7" x2="834.2" y2="673.2" stroke="#000" stroke-width="2.7"/><line x1="839.7" y1="681.7" x2="839.7" y2="673.2" stroke="#000" stroke-width="2.7"/><line x1="844.7" y1="681.7" x2="844.7" y2="666.7" stroke="#000" stroke-width="3.4"/><line x1="877.2" y1="681.7" x2="877.2" y2="673.2" stroke="#000" stroke-width="2.7"/><line x1="896.3" y1="681.7" x2="896.3" y2="673.2" stroke="#000" stroke-width="2.7"/><line x1="909.8" y1="681.7" x2="909.8" y2="673.2" stroke="#000" stroke-width="2.7"/><line x1="920.3" y1="681.7" x2="920.3" y2="673.2" stroke="#000" stroke-width="2.7"/><line x1="928.9" y1="681.7" x2="928.9" y2="673.2" stroke="#000" stroke-width="2.7"/><line x1="936.2" y1="681.7" x2="936.2" y2="673.2" stroke="#000" stroke-width="2.7"/><line x1="942.4" y1="681.7" x2="942.4" y2="673.2" stroke="#000" stroke-width="2.7"/><line x1="948" y1="681.7" x2="948" y2="673.2" stroke="#000" stroke-width="2.7"/><line x1="952.9" y1="681.7" x2="952.9" y2="666.7" stroke="#000" stroke-width="3.4"/><line x1="985.5" y1="681.7" x2="985.5" y2="673.2" stroke="#000" stroke-width="2.7"/><line x1="1004.6" y1="681.7" x2="1004.6" y2="673.2" stroke="#000" stroke-width="2.7"/><line x1="1018.1" y1="681.7" x2="1018.1" y2="673.2" stroke="#000" stroke-width="2.7"/><line x1="1028.6" y1="681.7" x2="1028.6" y2="673.2" stroke="#000" stroke-width="2.7"/><line x1="1037.2" y1="681.7" x2="1037.2" y2="673.2" stroke="#000" stroke-width="2.7"/><line x1="1044.4" y1="681.7" x2="1044.4" y2="673.2" stroke="#000" stroke-width="2.7"/><line x1="1050.7" y1="681.7" x2="1050.7" y2="673.2" stroke="#000" stroke-width="2.7"/><line x1="1056.2" y1="681.7" x2="1056.2" y2="673.2" stroke="#000" stroke-width="2.7"/><line x1="205.1" y1="121.8" x2="205.1" y2="130.3" stroke="#000" stroke-width="2.7"/><line x1="218.7" y1="121.8" x2="218.7" y2="130.3" stroke="#000" stroke-width="2.7"/><line x1="229.2" y1="121.8" x2="229.2" y2="130.3" stroke="#000" stroke-width="2.7"/><line x1="237.7" y1="121.8" x2="237.7" y2="130.3" stroke="#000" stroke-width="2.7"/><line x1="245" y1="121.8" x2="245" y2="130.3" stroke="#000" stroke-width="2.7"/><line x1="251.3" y1="121.8" x2="251.3" y2="130.3" stroke="#000" stroke-width="2.7"/><line x1="256.8" y1="121.8" x2="256.8" y2="130.3" stroke="#000" stroke-width="2.7"/><line x1="261.8" y1="121.8" x2="261.8" y2="136.8" stroke="#000" stroke-width="3.4"/><line x1="294.4" y1="121.8" x2="294.4" y2="130.3" stroke="#000" stroke-width="2.7"/><line x1="313.4" y1="121.8" x2="313.4" y2="130.3" stroke="#000" stroke-width="2.7"/><line x1="326.9" y1="121.8" x2="326.9" y2="130.3" stroke="#000" stroke-width="2.7"/><line x1="337.4" y1="121.8" x2="337.4" y2="130.3" stroke="#000" stroke-width="2.7"/><line x1="346" y1="121.8" x2="346" y2="130.3" stroke="#000" stroke-width="2.7"/><line x1="353.3" y1="121.8" x2="353.3" y2="130.3" stroke="#000" stroke-width="2.7"/><line x1="359.5" y1="121.8" x2="359.5" y2="130.3" stroke="#000" stroke-width="2.7"/><line x1="365.1" y1="121.8" x2="365.1" y2="130.3" stroke="#000" stroke-width="2.7"/><line x1="370" y1="121.8" x2="370" y2="136.8" stroke="#000" stroke-width="3.4"/><line x1="402.6" y1="121.8" x2="402.6" y2="130.3" stroke="#000" stroke-width="2.7"/><line x1="421.7" y1="121.8" x2="421.7" y2="130.3" stroke="#000" stroke-width="2.7"/><line x1="435.2" y1="121.8" x2="435.2" y2="130.3" stroke="#000" stroke-width="2.7"/><line x1="445.7" y1="121.8" x2="445.7" y2="130.3" stroke="#000" stroke-width="2.7"/><line x1="454.3" y1="121.8" x2="454.3" y2="130.3" stroke="#000" stroke-width="2.7"/><line x1="461.5" y1="121.8" x2="461.5" y2="130.3" stroke="#000" stroke-width="2.7"/><line x1="467.8" y1="121.8" x2="467.8" y2="130.3" stroke="#000" stroke-width="2.7"/><line x1="473.4" y1="121.8" x2="473.4" y2="130.3" stroke="#000" stroke-width="2.7"/><line x1="478.3" y1="121.8" x2="478.3" y2="136.8" stroke="#000" stroke-width="3.4"/><line x1="510.9" y1="121.8" x2="510.9" y2="130.3" stroke="#000" stroke-width="2.7"/><line x1="530" y1="121.8" x2="530" y2="130.3" stroke="#000" stroke-width="2.7"/><line x1="543.5" y1="121.8" x2="543.5" y2="130.3" stroke="#000" stroke-width="2.7"/><line x1="554" y1="121.8" x2="554" y2="130.3" stroke="#000" stroke-width="2.7"/><line x1="562.6" y1="121.8" x2="562.6" y2="130.3" stroke="#000" stroke-width="2.7"/><line x1="569.8" y1="121.8" x2="569.8" y2="130.3" stroke="#000" stroke-width="2.7"/><line x1="576.1" y1="121.8" x2="576.1" y2="130.3" stroke="#000" stroke-width="2.7"/><line x1="581.6" y1="121.8" x2="581.6" y2="130.3" stroke="#000" stroke-width="2.7"/><line x1="586.6" y1="121.8" x2="586.6" y2="136.8" stroke="#000" stroke-width="3.4"/><line x1="619.2" y1="121.8" x2="619.2" y2="130.3" stroke="#000" stroke-width="2.7"/><line x1="638.2" y1="121.8" x2="638.2" y2="130.3" stroke="#000" stroke-width="2.7"/><line x1="651.8" y1="121.8" x2="651.8" y2="130.3" stroke="#000" stroke-width="2.7"/><line x1="662.3" y1="121.8" x2="662.3" y2="130.3" stroke="#000" stroke-width="2.7"/><line x1="670.8" y1="121.8" x2="670.8" y2="130.3" stroke="#000" stroke-width="2.7"/><line x1="678.1" y1="121.8" x2="678.1" y2="130.3" stroke="#000" stroke-width="2.7"/><line x1="684.4" y1="121.8" x2="684.4" y2="130.3" stroke="#000" stroke-width="2.7"/><line x1="689.9" y1="121.8" x2="689.9" y2="130.3" stroke="#000" stroke-width="2.7"/><line x1="694.9" y1="121.8" x2="694.9" y2="136.8" stroke="#000" stroke-width="3.4"/><line x1="727.5" y1="121.8" x2="727.5" y2="130.3" stroke="#000" stroke-width="2.7"/><line x1="746.5" y1="121.8" x2="746.5" y2="130.3" stroke="#000" stroke-width="2.7"/><line x1="760" y1="121.8" x2="760" y2="130.3" stroke="#000" stroke-width="2.7"/><line x1="770.5" y1="121.8" x2="770.5" y2="130.3" stroke="#000" stroke-width="2.7"/><line x1="779.1" y1="121.8" x2="779.1" y2="130.3" stroke="#000" stroke-width="2.7"/><line x1="786.4" y1="121.8" x2="786.4" y2="130.3" stroke="#000" stroke-width="2.7"/><line x1="792.6" y1="121.8" x2="792.6" y2="130.3" stroke="#000" stroke-width="2.7"/><line x1="798.2" y1="121.8" x2="798.2" y2="130.3" stroke="#000" stroke-width="2.7"/><line x1="803.1" y1="121.8" x2="803.1" y2="136.8" stroke="#000" stroke-width="3.4"/><line x1="835.7" y1="121.8" x2="835.7" y2="130.3" stroke="#000" stroke-width="2.7"/><line x1="854.8" y1="121.8" x2="854.8" y2="130.3" stroke="#000" stroke-width="2.7"/><line x1="868.3" y1="121.8" x2="868.3" y2="130.3" stroke="#000" stroke-width="2.7"/><line x1="878.8" y1="121.8" x2="878.8" y2="130.3" stroke="#000" stroke-width="2.7"/><line x1="887.4" y1="121.8" x2="887.4" y2="130.3" stroke="#000" stroke-width="2.7"/><line x1="894.6" y1="121.8" x2="894.6" y2="130.3" stroke="#000" stroke-width="2.7"/><line x1="900.9" y1="121.8" x2="900.9" y2="130.3" stroke="#000" stroke-width="2.7"/><line x1="906.5" y1="121.8" x2="906.5" y2="130.3" stroke="#000" stroke-width="2.7"/><line x1="911.4" y1="121.8" x2="911.4" y2="136.8" stroke="#000" stroke-width="3.4"/><line x1="944" y1="121.8" x2="944" y2="130.3" stroke="#000" stroke-width="2.7"/><line x1="963.1" y1="121.8" x2="963.1" y2="130.3" stroke="#000" stroke-width="2.7"/><line x1="976.6" y1="121.8" x2="976.6" y2="130.3" stroke="#000" stroke-width="2.7"/><line x1="987.1" y1="121.8" x2="987.1" y2="130.3" stroke="#000" stroke-width="2.7"/><line x1="995.7" y1="121.8" x2="995.7" y2="130.3" stroke="#000" stroke-width="2.7"/><line x1="1002.9" y1="121.8" x2="1002.9" y2="130.3" stroke="#000" stroke-width="2.7"/><line x1="1009.2" y1="121.8" x2="1009.2" y2="130.3" stroke="#000" stroke-width="2.7"/><line x1="1014.7" y1="121.8" x2="1014.7" y2="130.3" stroke="#000" stroke-width="2.7"/><line x1="1019.7" y1="121.8" x2="1019.7" y2="136.8" stroke="#000" stroke-width="3.4"/><line x1="1052.3" y1="121.8" x2="1052.3" y2="130.3" stroke="#000" stroke-width="2.7"/><line x1="195" y1="635" x2="203.5" y2="635" stroke="#000" stroke-width="2.7"/><line x1="1061.2" y1="635" x2="1052.7" y2="635" stroke="#000" stroke-width="2.7"/><line x1="195" y1="588.4" x2="203.5" y2="588.4" stroke="#000" stroke-width="2.7"/><line x1="1061.2" y1="588.4" x2="1052.7" y2="588.4" stroke="#000" stroke-width="2.7"/><line x1="195" y1="541.7" x2="210" y2="541.7" stroke="#000" stroke-width="3.4"/><line x1="1061.2" y1="541.7" x2="1046.2" y2="541.7" stroke="#000" stroke-width="3.4"/><line x1="195" y1="495.1" x2="203.5" y2="495.1" stroke="#000" stroke-width="2.7"/><line x1="1061.2" y1="495.1" x2="1052.7" y2="495.1" stroke="#000" stroke-width="2.7"/><line x1="195" y1="448.4" x2="203.5" y2="448.4" stroke="#000" stroke-width="2.7"/><line x1="1061.2" y1="448.4" x2="1052.7" y2="448.4" stroke="#000" stroke-width="2.7"/><line x1="195" y1="401.8" x2="210" y2="401.8" stroke="#000" stroke-width="3.4"/><line x1="1061.2" y1="401.8" x2="1046.2" y2="401.8" stroke="#000" stroke-width="3.4"/><line x1="195" y1="355.1" x2="203.5" y2="355.1" stroke="#000" stroke-width="2.7"/><line x1="1061.2" y1="355.1" x2="1052.7" y2="355.1" stroke="#000" stroke-width="2.7"/><line x1="195" y1="308.4" x2="203.5" y2="308.4" stroke="#000" stroke-width="2.7"/><line x1="1061.2" y1="308.4" x2="1052.7" y2="308.4" stroke="#000" stroke-width="2.7"/><line x1="195" y1="261.8" x2="210" y2="261.8" stroke="#000" stroke-width="3.4"/><line x1="1061.2" y1="261.8" x2="1046.2" y2="261.8" stroke="#000" stroke-width="3.4"/><line x1="195" y1="215.1" x2="203.5" y2="215.1" stroke="#000" stroke-width="2.7"/><line x1="1061.2" y1="215.1" x2="1052.7" y2="215.1" stroke="#000" stroke-width="2.7"/><line x1="195" y1="168.5" x2="203.5" y2="168.5" stroke="#000" stroke-width="2.7"/><line x1="1061.2" y1="168.5" x2="1052.7" y2="168.5" stroke="#000" stroke-width="2.7"/>
<rect x="195" y="121.8" width="866.2" height="559.9" fill="none" stroke="#000" stroke-width="3.7"/>
<text x="249.9" y="731.3" font-size="46">10</text><rect x="298.9" y="706.2" width="20.5" height="2.2"/><text x="322.8" y="715.1" font-size="31">20</text>
<text x="467.1" y="731.3" font-size="46">10</text><rect x="516.1" y="706.2" width="20.5" height="2.2"/><text x="538.7" y="715.1" font-size="31">18</text>
<text x="683.5" y="731.3" font-size="46">10</text><rect x="732.6" y="706.2" width="20.5" height="2.2"/><text x="755.1" y="715.1" font-size="31">16</text>
<text x="899.8" y="731.3" font-size="46">10</text><rect x="948.9" y="706.2" width="20.5" height="2.2"/><text x="971.5" y="715.1" font-size="31">14</text>
<text x="215.9" y="100.9" font-size="46">10</text><rect x="265" y="75.8" width="20.5" height="2.2"/><text x="289" y="84.7" font-size="31">6</text>
<text x="431.9" y="100.9" font-size="46">10</text><rect x="481" y="75.8" width="20.5" height="2.2"/><text x="505.6" y="84.7" font-size="31">4</text>
<text x="649.4" y="100.9" font-size="46">10</text><rect x="698.5" y="75.8" width="20.5" height="2.2"/><text x="722.4" y="84.7" font-size="31">2</text>
<text x="879.3" y="100.9" font-size="46">10</text><text x="925.2" y="84.7" font-size="31">0</text>
<text x="115.4" y="138.4" font-size="46">10</text><text x="161" y="122.2" font-size="31">3</text>
<text x="115.1" y="278.4" font-size="46">10</text><text x="161" y="262.2" font-size="31">0</text>
<text x="88.1" y="418.4" font-size="46">10</text><rect x="137.2" y="393.3" width="20.5" height="2.2"/><text x="161" y="402.2" font-size="31">3</text>
<text x="87.7" y="558.3" font-size="46">10</text><rect x="136.8" y="533.2" width="20.5" height="2.2"/><text x="160.7" y="542.1" font-size="31">6</text>
<text x="87.7" y="698.3" font-size="46">10</text><rect x="136.8" y="673.2" width="20.5" height="2.2"/><text x="161.1" y="682.1" font-size="31">9</text>
<text x="557.3" y="43" font-size="44.5" font-style="italic">f</text>
<text x="576" y="49.9" font-size="34" font-style="italic">C</text>
<text x="623.5" y="42.4" font-size="44.5" textLength="74" lengthAdjust="spacing">[Hz]</text>
<text x="548.6" y="786.2" font-size="44.5" font-style="italic" textLength="41.5" lengthAdjust="spacingAndGlyphs">m</text>
<text x="589.6" y="792.1" font-size="30" font-style="italic" textLength="22.2" lengthAdjust="spacingAndGlyphs">ϕ</text>
<text x="628.8" y="786.2" font-size="44.5" textLength="75" lengthAdjust="spacing">[eV]</text>
<text transform="translate(66.2,422.2) rotate(-90)" font-size="44.5" font-style="italic">d</text>
<text transform="translate(72.7,397.8) rotate(-90)" font-size="29" font-style="italic">g</text>
<text transform="translate(210.9,162.6)" font-size="42.5" fill="#000" textLength="27.1" lengthAdjust="spacingAndGlyphs" font-weight="bold">a</text>
<text transform="translate(237.6,336.8) rotate(-90)" font-size="36.6" fill="#808080" textLength="142.2" lengthAdjust="spacingAndGlyphs" >MW sat.</text>
<text transform="translate(233,623.8) rotate(-90)" font-size="36.6" fill="#4b63d8" textLength="110.7" lengthAdjust="spacingAndGlyphs" >Yb/Cs</text>
<text transform="translate(774.5,520.1)" font-size="36.6" fill="#808080" textLength="140.4" lengthAdjust="spacingAndGlyphs" >EP tests</text>
<text transform="translate(639.8,155.5)" font-size="36.6" fill="#6aaa64" textLength="127.4" lengthAdjust="spacingAndGlyphs" >Rb/Qtz</text>
<text transform="translate(679.1,206.5)" font-size="36.6" fill="#88c47c" textLength="339.6" lengthAdjust="spacingAndGlyphs" >H/Qtz &amp; Qtz/Sapph.</text>
<text transform="translate(456.5,361) rotate(-24)" font-size="36.6" fill="#4a78b4" textLength="105" lengthAdjust="spacingAndGlyphs" >Rb/Cs</text>
<text transform="translate(606.6,371) rotate(-24)" font-size="36.6" fill="#5cb6f5" textLength="76.5" lengthAdjust="spacingAndGlyphs" >H/Si</text>
<text transform="translate(593.9,418) rotate(-24)" font-size="36.6" fill="#5590f2" textLength="98.1" lengthAdjust="spacingAndGlyphs" >Sr/Cs</text>
<g transform="translate(446,525) rotate(-23.2)" fill="#c4282c" stroke="#c4282c">
<text x="-1.2" y="0" font-size="36.6" stroke-width="1.1" textLength="14.5" lengthAdjust="spacingAndGlyphs">I</text>
<text x="15.7" y="8" font-size="25" stroke-width="0.9">2</text>
<path d="M23.7,-22.3 H40.7 M32.2,-30.8 V-13.8" stroke-width="2.6" fill="none"/>
<path d="M42.5,9.5 L58.7,-24" stroke-width="2.8" fill="none"/>
<text x="60.5" y="0" font-size="36.6" stroke-width="1.1" stroke-linejoin="round" textLength="52.6" lengthAdjust="spacingAndGlyphs">Ca</text>
<path d="M114.1,-23.1 H131.1 M122.6,-31.6 V-14.6" stroke-width="2.6" fill="none"/>
<text x="144.95" y="0" font-size="36.6" stroke-width="1.1" stroke-linejoin="round" textLength="208.2" lengthAdjust="spacingAndGlyphs">(this work)</text>
</g>
<g transform="translate(600,304) rotate(-23.6)" fill="#62b9bf" stroke="#62b9bf">
<text x="-3.4" y="0" font-size="36.6" stroke="none" textLength="42.7" lengthAdjust="spacingAndGlyphs">Yb</text>
<path d="M49,-19.5 H66 M57.5,-28 V-11" stroke-width="2.4" fill="none"/>
<text x="77.5" y="0" font-size="36.6" stroke="none" textLength="107.6" lengthAdjust="spacingAndGlyphs">E3/E2</text>
</g>
<g transform="translate(678,500) rotate(-23.2)" fill="#808080">
<text x="-0.95" y="0" font-size="36.6" textLength="196.9" lengthAdjust="spacingAndGlyphs">naturalness,</text>
<text x="211.8" y="0" font-size="36.6">Λ</text>
<text x="240.4" y="6" font-size="26" textLength="43" lengthAdjust="spacingAndGlyphs">UV</text>
<text x="290.4" y="2" font-size="36.6" textLength="29.1" lengthAdjust="spacingAndGlyphs">=</text>
<text x="323.3" y="0" font-size="36.6">1</text>
<text x="350.5" y="0" font-size="36.6" textLength="70.3" lengthAdjust="spacingAndGlyphs">GeV</text>
</g>
<text transform="translate(991.5,292) rotate(-44.4)" font-size="36.6" fill="#e0802a" textLength="99" lengthAdjust="spacingAndGlyphs" >SrOH</text>
<g transform="translate(842,645) rotate(-40)" fill="#8b6cc1">
<text x="0" y="0" font-size="24" textLength="50" lengthAdjust="spacingAndGlyphs">229</text>
<text x="50" y="0" font-size="24" font-style="italic" textLength="26" lengthAdjust="spacingAndGlyphs">m</text>
<text x="81" y="4" font-size="35" textLength="46" lengthAdjust="spacingAndGlyphs">Th</text>
</g>
</svg></body></html>
